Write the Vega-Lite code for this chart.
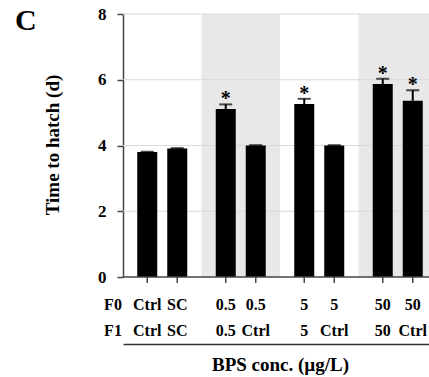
{
  "$schema": "https://vega.github.io/schema/vega-lite/v6.json",
  "autosize": {"type": "none"},
  "width": 306,
  "height": 263,
  "padding": {"left": 123, "top": 14, "right": 0, "bottom": 100},
  "background": "white",
  "title": {"text": "C", "anchor": "start", "frame": "group", "font": "Liberation Serif", "fontWeight": "bold", "fontSize": 30, "color": "black", "baseline": "top", "dx": -108, "dy": 35},
  "datasets": {
    "bars": [
      {"grp": "Ctrl", "sub": "a", "f0": "Ctrl", "f1": "Ctrl", "mean": 3.80, "upper": 3.81, "star": ""},
      {"grp": "Ctrl", "sub": "b", "f0": "SC", "f1": "SC", "mean": 3.91, "upper": 3.92, "star": ""},
      {"grp": "0.5", "sub": "a", "f0": "0.5", "f1": "0.5", "mean": 5.11, "upper": 5.25, "star": "*"},
      {"grp": "0.5", "sub": "b", "f0": "0.5", "f1": "Ctrl", "mean": 4.00, "upper": 4.01, "star": ""},
      {"grp": "5", "sub": "a", "f0": "5", "f1": "5", "mean": 5.26, "upper": 5.42, "star": "*"},
      {"grp": "5", "sub": "b", "f0": "5", "f1": "Ctrl", "mean": 4.00, "upper": 4.01, "star": ""},
      {"grp": "50", "sub": "a", "f0": "50", "f1": "50", "mean": 5.87, "upper": 6.03, "star": "*"},
      {"grp": "50", "sub": "b", "f0": "50", "f1": "Ctrl", "mean": 5.36, "upper": 5.68, "star": "*"}
    ],
    "bands": [{"grp": "0.5"}, {"grp": "50"}],
    "grid": [{"v": 2}, {"v": 4}, {"v": 6}, {"v": 8}]
  },
  "resolve": {"axis": {"x": "independent"}},
  "layer": [
    {
      "data": {"name": "bands"},
      "mark": {"type": "rect", "color": "#e8e8e8"},
      "encoding": {
        "x": {"field": "grp", "type": "nominal", "sort": ["Ctrl", "0.5", "5", "50"],
              "scale": {"domain": ["Ctrl", "0.5", "5", "50"], "range": [0, 314], "paddingInner": 0, "paddingOuter": 0},
              "axis": {"orient": "bottom", "offset": 0, "domain": false, "ticks": false, "labels": false,
                       "title": ["F0", "F1"], "titleFont": "Liberation Serif", "titleFontWeight": "bold", "titleFontSize": 16,
                       "titleColor": "black", "titleX": -10.5, "titleY": 27.5, "titleAlign": "center", "titleBaseline": "middle",
                       "titleLineHeight": 26, "titleAngle": 0}},
        "y": {"datum": 8, "type": "quantitative", "scale": {"domain": [0, 8], "nice": false}, "title": "Time to hatch (d)",
              "axis": {"values": [0, 2, 4, 6, 8]}},
        "y2": {"datum": 0}
      }
    },
    {
      "data": {"name": "grid"},
      "mark": {"type": "rule", "color": "#d9d9d9", "strokeWidth": 1},
      "encoding": {
        "y": {"field": "v", "type": "quantitative", "scale": {"domain": [0, 8], "nice": false}, "title": "Time to hatch (d)",
              "axis": {"values": [0, 2, 4, 6, 8]}}
      }
    },
    {
      "data": {"name": "bars"},
      "mark": {"type": "bar", "color": "black"},
      "encoding": {
        "x": {"field": "grp", "type": "nominal", "sort": ["Ctrl", "0.5", "5", "50"],
              "scale": {"domain": ["Ctrl", "0.5", "5", "50"], "range": [0, 314], "paddingInner": 0, "paddingOuter": 0},
              "axis": {"orient": "bottom", "offset": 67, "domain": true, "domainColor": "#333", "domainWidth": 1.5,
                       "ticks": false, "labels": false, "title": "BPS conc. (µg/L)",
                       "titleFont": "Liberation Serif", "titleFontWeight": "bold", "titleFontSize": 19, "titleColor": "black",
                       "titleBaseline": "alphabetic", "titleY": 26}},
        "xOffset": {"field": "sub", "type": "nominal", "scale": {"domain": ["a", "b"], "paddingInner": 0.3333, "paddingOuter": 0.475}},
        "y": {"field": "mean", "type": "quantitative", "scale": {"domain": [0, 8], "nice": false}, "title": "Time to hatch (d)",
              "axis": {"values": [0, 2, 4, 6, 8]}}
      }
    },
    {
      "data": {"name": "bars"},
      "mark": {"type": "rule", "color": "black", "strokeWidth": 2},
      "encoding": {
        "x": {"field": "grp", "type": "nominal", "sort": ["Ctrl", "0.5", "5", "50"], "axis": null},
        "xOffset": {"field": "sub", "type": "nominal"},
        "y": {"field": "mean", "type": "quantitative", "scale": {"domain": [0, 8], "nice": false}, "title": "Time to hatch (d)",
              "axis": {"values": [0, 2, 4, 6, 8]}},
        "y2": {"field": "upper"}
      }
    },
    {
      "data": {"name": "bars"},
      "mark": {"type": "tick", "color": "black", "thickness": 2, "size": 13},
      "encoding": {
        "x": {"field": "grp", "type": "nominal", "sort": ["Ctrl", "0.5", "5", "50"], "axis": null},
        "xOffset": {"field": "sub", "type": "nominal"},
        "y": {"field": "upper", "type": "quantitative", "scale": {"domain": [0, 8], "nice": false}, "title": "Time to hatch (d)",
              "axis": {"values": [0, 2, 4, 6, 8]}}
      }
    },
    {
      "data": {"name": "bars"},
      "mark": {"type": "text", "font": "Liberation Serif", "fontWeight": "bold", "fontSize": 20, "baseline": "alphabetic", "dy": 1, "color": "black"},
      "encoding": {
        "x": {"field": "grp", "type": "nominal", "sort": ["Ctrl", "0.5", "5", "50"], "axis": null},
        "xOffset": {"field": "sub", "type": "nominal"},
        "y": {"field": "upper", "type": "quantitative", "scale": {"domain": [0, 8], "nice": false}, "title": "Time to hatch (d)",
              "axis": {"values": [0, 2, 4, 6, 8]}},
        "text": {"field": "star"}
      }
    },
    {
      "data": {"name": "bars"},
      "mark": {"type": "rule", "color": "#444", "strokeWidth": 1.5},
      "encoding": {
        "x": {"field": "grp", "type": "nominal", "sort": ["Ctrl", "0.5", "5", "50"], "axis": null},
        "xOffset": {"field": "sub", "type": "nominal"},
        "y": {"datum": 0, "type": "quantitative", "scale": {"domain": [0, 8], "nice": false}, "title": "Time to hatch (d)",
              "axis": {"values": [0, 2, 4, 6, 8]}},
        "y2": {"datum": -0.18}
      }
    },
    {
      "data": {"values": [{"v": 0}]},
      "mark": {"type": "rule", "color": "#444", "strokeWidth": 1.5},
      "encoding": {
        "y": {"field": "v", "type": "quantitative", "scale": {"domain": [0, 8], "nice": false}, "title": "Time to hatch (d)",
              "axis": {"values": [0, 2, 4, 6, 8]}}
      }
    },
    {
      "data": {"name": "bars"},
      "mark": {"type": "text", "font": "Liberation Serif", "fontWeight": "bold", "fontSize": 16, "baseline": "middle", "dy": 27.5, "color": "black"},
      "encoding": {
        "x": {"field": "grp", "type": "nominal", "sort": ["Ctrl", "0.5", "5", "50"], "axis": null},
        "xOffset": {"field": "sub", "type": "nominal"},
        "y": {"datum": 0, "type": "quantitative", "scale": {"domain": [0, 8], "nice": false}, "title": "Time to hatch (d)",
              "axis": {"values": [0, 2, 4, 6, 8]}},
        "text": {"field": "f0"}
      }
    },
    {
      "data": {"name": "bars"},
      "mark": {"type": "text", "font": "Liberation Serif", "fontWeight": "bold", "fontSize": 16, "baseline": "middle", "dy": 53.5, "color": "black"},
      "encoding": {
        "x": {"field": "grp", "type": "nominal", "sort": ["Ctrl", "0.5", "5", "50"], "axis": null},
        "xOffset": {"field": "sub", "type": "nominal"},
        "y": {"datum": 0, "type": "quantitative", "scale": {"domain": [0, 8], "nice": false}, "title": "Time to hatch (d)",
              "axis": {"values": [0, 2, 4, 6, 8]}},
        "text": {"field": "f1"}
      }
    }
  ],
  "config": {
    "view": {"stroke": null},
    "axisY": {
      "grid": false,
      "domainColor": "#444", "domainWidth": 1.5,
      "tickColor": "#444", "tickWidth": 1.5, "tickSize": 6,
      "labelFont": "Liberation Serif", "labelFontWeight": "bold", "labelFontSize": 17, "labelColor": "black", "labelPadding": 11,
      "titleFont": "Liberation Serif", "titleFontWeight": "bold", "titleFontSize": 19, "titleColor": "black",
      "titleX": -61, "titleY": 130.5, "titleAlign": "center", "titleBaseline": "bottom", "titleAngle": -90
    }
  }
}
